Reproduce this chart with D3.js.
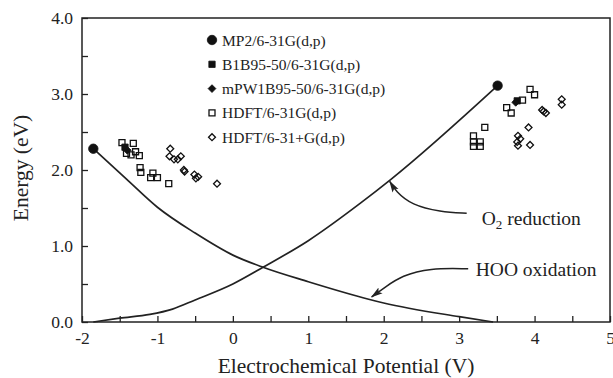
<!DOCTYPE html>
<html>
<head>
<meta charset="utf-8">
<script src="https://cdn.jsdelivr.net/npm/d3@7"></script>
<style>
  body { margin: 0; background: #fff; }
  text { font-family: "Liberation Serif", "Times New Roman", serif; fill: #222; }
</style>
</head>
<body>
<div id="chart"></div>
<script>
// data (V, eV)
const mp2 = [[-1.85, 2.28], [3.51, 3.11]];
const b1b95 = [[-1.43, 2.30], [3.77, 2.91]];
const mpw1b95 = [[-1.40, 2.26], [3.75, 2.89]];
const hdft631g = [
    [-1.47, 2.36], [-1.32, 2.35], [-1.41, 2.22], [-1.35, 2.20], [-1.29, 2.24], [-1.24, 2.19],
    [-1.23, 2.03], [-1.22, 1.97], [-1.09, 1.90], [-1.06, 1.96], [-1.00, 1.90], [-0.85, 1.82],
    [3.19, 2.45], [3.19, 2.37], [3.19, 2.31], [3.28, 2.37], [3.28, 2.31], [3.34, 2.56],
    [3.63, 2.82], [3.69, 2.75], [3.84, 2.92], [3.94, 3.06], [4.00, 2.99]
];
const hdft631pg = [
    [-0.83, 2.28], [-0.84, 2.18], [-0.78, 2.14], [-0.73, 2.14], [-0.69, 2.18], [-0.65, 2.00],
    [-0.64, 1.98], [-0.51, 1.94], [-0.49, 1.89], [-0.46, 1.91], [-0.21, 1.82],
    [4.36, 2.93], [4.36, 2.86], [4.10, 2.79], [4.15, 2.75], [4.12, 2.77], [3.92, 2.56],
    [3.78, 2.45], [3.81, 2.41], [3.77, 2.37], [3.78, 2.32], [3.94, 2.33]
];
const o2Reduction = [
    [-1.85, 0], [-1.5, 0.05], [-1.1, 0.10], [-0.8, 0.17], [-0.5, 0.29], [0, 0.50],
    [0.4, 0.72], [1.0, 1.07], [1.7, 1.57], [2.1, 1.88], [3.51, 3.11]
];
const hooOxidation = [
    [-1.85, 2.28], [-1.41, 1.88], [-1.0, 1.51], [-0.5, 1.17], [0, 0.88], [0.4, 0.72],
    [1.0, 0.53], [1.8, 0.30], [2.0, 0.25], [3.0, 0.07], [3.45, 0]
];
const legendLabels = ["MP2/6-31G(d,p)", "B1B95-50/6-31G(d,p)", "mPW1B95-50/6-31G(d,p)",
    "HDFT/6-31G(d,p)", "HDFT/6-31+G(d,p)"];
const xTicks = d3.range(-2, 5.01, 0.5);
const yTicks = d3.range(0, 4.01, 0.5);
// annotation arrows, in data units
const o2Arrow = [[3.10, 1.43], [2.75, 1.45], [2.37, 1.54], [2.16, 1.72], [2.08, 1.85]];
const hooArrow = [[3.12, 0.70], [2.61, 0.71], [2.24, 0.61], [2.02, 0.46], [1.84, 0.33]];

const margin = {top: 18, right: 3, bottom: 56, left: 82},
    svg_width = 613,
    svg_height = 378,
    width = svg_width - margin.left - margin.right,
    height = svg_height - margin.top - margin.bottom;

const x = d3.scaleLinear().domain([-2, 5]).range([0, width]);
const y = d3.scaleLinear().domain([0, 4]).range([height, 0]);

const serif = '"Liberation Serif", "Times New Roman", serif';

const svg = d3.select("#chart")
    .append("svg")
    .attr("width", svg_width)
    .attr("height", svg_height)
        .append("g")
        .attr("transform", "translate(" + margin.left + "," + margin.top + ")");

svg.append("defs").append("marker")
    .attr("id", "head")
    .attr("viewBox", "0 -5 12 10")
    .attr("refX", 11)
    .attr("refY", 0)
    .attr("markerUnits", "userSpaceOnUse")
    .attr("markerWidth", 12)
    .attr("markerHeight", 10)
    .attr("orient", "auto")
    .append("path")
        .attr("fill", "#222")
        .attr("d", "M0,-3.5L12,0L0,3.5L2.5,0Z");

// axes, ticks pointing inward
const xAxis = svg.append("g")
    .attr("transform", "translate(0," + height + ")")
    .call(d3.axisBottom(x)
        .tickValues(xTicks)
        .tickSizeInner(-6)
        .tickSizeOuter(0)
        .tickPadding(10)
        .tickFormat(d => Number.isInteger(d) ? String(d) : ""));

const yAxis = svg.append("g")
    .call(d3.axisLeft(y)
        .tickValues(yTicks)
        .tickSizeInner(-6)
        .tickSizeOuter(0)
        .tickPadding(9)
        .tickFormat(d => Number.isInteger(d) ? d.toFixed(1) : ""));

[xAxis, yAxis].forEach(a => {
    a.attr("font-family", serif);
    a.select(".domain").remove();
    a.selectAll("line").attr("stroke", "#222").attr("stroke-width", 1.3);
    a.selectAll("text")
        .style("font-family", serif)
        .style("font-size", "17.5px")
        .attr("fill", "#222");
});

svg.append("rect")
    .attr("width", width)
    .attr("height", height)
    .attr("fill", "none")
    .attr("stroke", "#222")
    .attr("stroke-width", 1.5);

// curves
const line = d3.line()
    .x(d => x(d[0]))
    .y(d => y(d[1]))
    .curve(d3.curveMonotoneX);

svg.selectAll(".curve")
    .data([o2Reduction, hooOxidation])
    .join("path")
        .attr("class", "curve")
        .attr("d", line)
        .attr("fill", "none")
        .attr("stroke", "#222")
        .attr("stroke-width", 1.7);

// markers: diamonds are squares turned 45 degrees
const symbolPath = (type, size) => d3.symbol().type(type).size(size)();
const series = [
    {data: mp2, type: d3.symbolCircle, size: 70, rot: 0, fill: "#111"},
    {data: b1b95, type: d3.symbolSquare, size: 40, rot: 0, fill: "#111"},
    {data: mpw1b95, type: d3.symbolSquare, size: 30, rot: 45, fill: "#111"},
    {data: hdft631g, type: d3.symbolSquare, size: 36, rot: 0, fill: "none"},
    {data: hdft631pg, type: d3.symbolSquare, size: 24, rot: 45, fill: "none"}
];

series.forEach(s => {
    svg.append("g")
        .selectAll("path")
        .data(s.data)
        .join("path")
            .attr("transform", d => `translate(${x(d[0])},${y(d[1])}) rotate(${s.rot})`)
            .attr("d", symbolPath(s.type, s.size))
            .attr("fill", s.fill === "none" ? "#fff" : s.fill)
            .attr("fill-opacity", s.fill === "none" ? 0 : 1)
            .attr("stroke", "#111")
            .attr("stroke-width", s.fill === "none" ? 1.3 : 0.8);
});

// legend
const legend = svg.append("g")
    .attr("transform", "translate(130,22)");

legend.selectAll("g")
    .data(series)
    .join("g")
        .attr("transform", (d, i) => `translate(0,${i * 24.3})`)
        .each(function(d, i) {
            const g = d3.select(this);
            g.append("path")
                .attr("transform", `rotate(${d.rot})`)
                .attr("d", symbolPath(d.type, d.size))
                .attr("fill", d.fill === "none" ? "none" : d.fill)
                .attr("stroke", "#111")
                .attr("stroke-width", d.fill === "none" ? 1.3 : 0.8);
            g.append("text")
                .attr("x", 10)
                .attr("y", 5.5)
                .style("font-size", "15.5px")
                .text(legendLabels[i]);
        });

// annotations
const arrowLine = d3.line()
    .x(d => x(d[0]))
    .y(d => y(d[1]))
    .curve(d3.curveBasis);

svg.selectAll(".arrow")
    .data([o2Arrow, hooArrow])
    .join("path")
        .attr("class", "arrow")
        .attr("d", arrowLine)
        .attr("fill", "none")
        .attr("stroke", "#222")
        .attr("stroke-width", 1.5)
        .attr("marker-end", "url(#head)");

const o2Text = svg.append("text")
    .attr("x", x(3.30))
    .attr("y", y(1.28))
    .style("font-size", "19.5px");
o2Text.append("tspan").text("O");
o2Text.append("tspan").attr("dy", 4).style("font-size", "13px").text("2");
o2Text.append("tspan").attr("dy", -4).text(" reduction");

svg.append("text")
    .attr("x", x(3.22))
    .attr("y", y(0.60))
    .style("font-size", "19.5px")
    .text("HOO oxidation");

// axis titles
svg.append("text")
    .attr("x", width / 2)
    .attr("y", height + 51)
    .attr("text-anchor", "middle")
    .style("font-size", "21.5px")
    .text("Electrochemical Potential (V)");

svg.append("text")
    .attr("transform", "rotate(-90)")
    .attr("x", -height / 2 + 2)
    .attr("y", -54)
    .attr("text-anchor", "middle")
    .style("font-size", "21.5px")
    .text("Energy (eV)");
</script>
</body>
</html>
